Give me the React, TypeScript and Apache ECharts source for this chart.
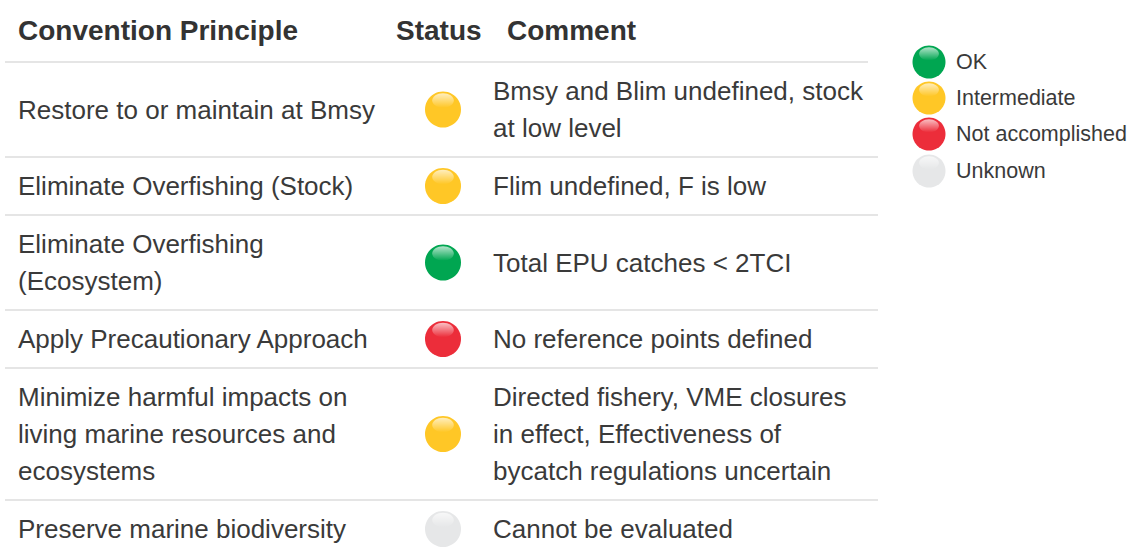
import React, { useEffect, useRef } from "react";
import * as echarts from "echarts";

const headers = ["Convention Principle", "Status", "Comment"];
const principles = [
  "Restore to or maintain at Bmsy",
  "Eliminate Overfishing (Stock)",
  "Eliminate Overfishing\n(Ecosystem)",
  "Apply Precautionary Approach",
  "Minimize harmful impacts on\nliving marine resources and\necosystems",
  "Preserve marine biodiversity",
];
const statuses = ["Intermediate", "Intermediate", "OK", "Not accomplished", "Intermediate", "Unknown"];
const comments = [
  "Bmsy and Blim undefined, stock\nat low level",
  "Flim undefined, F is low",
  "Total EPU catches < 2TCI",
  "No reference points defined",
  "Directed fishery, VME closures\nin effect, Effectiveness of\nbycatch regulations uncertain",
  "Cannot be evaluated",
];
const legendLabels = ["OK", "Intermediate", "Not accomplished", "Unknown"];
const legendColors = ["#00A651", "#FFC726", "#EC2D3A", "#E6E7E8"];

const FONT = "'Liberation Sans', Arial, Helvetica, sans-serif";

function ball(cx: number, cy: number, r: number, color: string): any[] {
  return [
    { type: "circle", shape: { cx, cy, r }, style: { fill: color } },
    {
      type: "ellipse",
      shape: { cx, cy: cy - r * 0.5, rx: r * 0.6, ry: r * 0.4 },
      style: {
        fill: new echarts.graphic.LinearGradient(0, 0, 0, 1, [
          { offset: 0, color: "rgba(255,255,255,0.7)" },
          { offset: 1, color: "rgba(255,255,255,0)" },
        ]),
      },
    },
  ];
}

export default function App() {
  const ref = useRef<HTMLDivElement>(null);
  useEffect(() => {
    if (!ref.current) return;
    const chart = echarts.init(ref.current, null, { renderer: "svg" });
    const els: any[] = [];
    const colX = [18, 443, 493];
    els.push({ type: "text", x: colX[0], y: 30, style: { text: headers[0], font: `bold 28px ${FONT}`, fill: "#333", verticalAlign: "middle" } });
    els.push({ type: "text", x: 396, y: 30, style: { text: headers[1], font: `bold 28px ${FONT}`, fill: "#333", verticalAlign: "middle" } });
    els.push({ type: "text", x: 507, y: 30, style: { text: headers[2], font: `bold 28px ${FONT}`, fill: "#333", verticalAlign: "middle" } });
    els.push({ type: "line", shape: { x1: 5, y1: 62, x2: 868, y2: 62 }, style: { stroke: "#dcdcdc", lineWidth: 1.5 } });

    const LH = 37;
    let y = 62;
    principles.forEach((p, i) => {
      const lines = Math.max(p.split("\n").length, comments[i].split("\n").length);
      const h = 21 + LH * lines;
      const cy = y + h / 2;
      els.push({ type: "text", x: colX[0], y: cy, style: { text: p, font: `26px ${FONT}`, fill: "#3a3a3a", verticalAlign: "middle", lineHeight: LH } });
      els.push({ type: "text", x: colX[2], y: cy, style: { text: comments[i], font: `26px ${FONT}`, fill: "#3a3a3a", verticalAlign: "middle", lineHeight: LH } });
      const ci = legendLabels.indexOf(statuses[i]);
      els.push(...ball(colX[1], cy, 18, legendColors[ci]));
      y += h;
      if (i < principles.length - 1) {
        els.push({ type: "line", shape: { x1: 5, y1: y, x2: 878, y2: y }, style: { stroke: "#dcdcdc", lineWidth: 1.5 } });
      }
    });

    const legendY = [62, 98, 134, 171];
    legendLabels.forEach((l, i) => {
      const ly = legendY[i];
      els.push(...ball(929, ly, 16.5, legendColors[i]));
      els.push({ type: "text", x: 956, y: ly, style: { text: l, font: `21.5px ${FONT}`, fill: "#3a3a3a", verticalAlign: "middle" } });
    });

    chart.setOption({ animation: false, graphic: { elements: els } });
    return () => chart.dispose();
  }, []);
  return <div ref={ref} style={{ position: "fixed", left: 0, top: 0, width: 1133, height: 550, background: "#fff" }} />;
}
